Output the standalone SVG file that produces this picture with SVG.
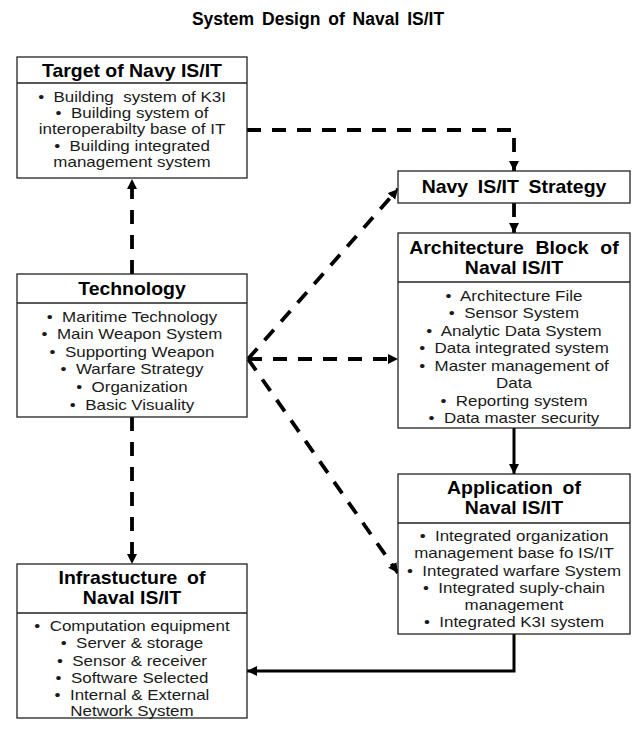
<svg xmlns="http://www.w3.org/2000/svg" width="637" height="729" viewBox="0 0 637 729">
<style>
.box{fill:#fff;stroke:#222;stroke-width:1.3}
.div{stroke:#222;stroke-width:1.3}
.title{font-family:"Liberation Sans",Arial,sans-serif;font-weight:bold;font-size:17.5px;fill:#000;text-anchor:middle;word-spacing:3px}
.hd{font-family:"Liberation Sans",Arial,sans-serif;font-weight:bold;font-size:18px;fill:#000;text-anchor:middle}
.it{font-family:"Liberation Sans",Arial,sans-serif;font-size:15px;fill:#1a1a1a;text-anchor:middle}
.dash{fill:none;stroke:#000;stroke-width:3.8;stroke-dasharray:14 11}
.solid{fill:none;stroke:#000;stroke-width:3}
</style>
<defs>
<marker id="ah" markerUnits="userSpaceOnUse" markerWidth="12" markerHeight="12" refX="10" refY="5" orient="auto">
<path d="M0,0 L10,5 L0,10 Z" fill="#000"/>
</marker>
</defs>
<rect width="637" height="729" fill="#fff"/>
<text class="title" x="318" y="25">System Design of Naval IS/IT</text>

<g id="connectors">
<path class="dash" d="M247,130 H514 V171" marker-end="url(#ah)"/>
<path class="dash" d="M514,203 V233" marker-end="url(#ah)"/>
<path class="dash" d="M132,274 V179" marker-end="url(#ah)"/>
<path class="dash" d="M248,359 L398,189" marker-end="url(#ah)"/>
<path class="dash" d="M248,359 L398,359" marker-end="url(#ah)"/>
<path class="dash" d="M248,359 L398,573" marker-end="url(#ah)"/>
<path class="dash" d="M132,417 V564" marker-end="url(#ah)"/>
<path class="solid" d="M514,428 V474" marker-end="url(#ah)"/>
<path class="solid" d="M514,634 V671 H247" marker-end="url(#ah)"/>
</g>

<g id="target">
<rect class="box" x="17" y="57" width="230" height="121"/>
<line class="div" x1="17" y1="83" x2="247" y2="83"/>
<g transform="matrix(1.08,0,0,1,-10.56,0)">
<text class="hd" x="132" y="77">Target of Navy IS/IT</text>
</g>
<g transform="matrix(1.13,0,0,1,-17.16,0)">
<text class="it" x="132" y="102" xml:space="preserve">•  Building  system of K3I</text>
<text class="it" x="132" y="118" xml:space="preserve">•  Building system of</text>
<text class="it" x="132" y="134">interoperabilty base of IT</text>
<text class="it" x="132" y="151" xml:space="preserve">•  Building integrated</text>
<text class="it" x="132" y="167">management system</text>
</g>
</g>

<g id="strategy">
<rect class="box" x="398" y="171" width="232" height="32"/>
<g transform="matrix(1.08,0,0,1,-41.12,0)">
<text class="hd" x="514" y="193" style="word-spacing:4px">Navy IS/IT Strategy</text>
</g>
</g>

<g id="architecture">
<rect class="box" x="398" y="233" width="232" height="195"/>
<line class="div" x1="398" y1="282" x2="630" y2="282"/>
<g transform="matrix(1.08,0,0,1,-41.12,0)">
<text class="hd" x="514" y="254" style="word-spacing:6px">Architecture Block of</text>
<text class="hd" x="514" y="274">Naval IS/IT</text>
</g>
<g transform="matrix(1.13,0,0,1,-66.82,0)">
<text class="it" x="514" y="301" xml:space="preserve">•  Architecture File</text>
<text class="it" x="514" y="318" xml:space="preserve">•  Sensor System</text>
<text class="it" x="514" y="336" xml:space="preserve">•  Analytic Data System</text>
<text class="it" x="514" y="353" xml:space="preserve">•  Data integrated system</text>
<text class="it" x="514" y="371" xml:space="preserve">•  Master management of</text>
<text class="it" x="514" y="388">Data</text>
<text class="it" x="514" y="406" xml:space="preserve">•  Reporting system</text>
<text class="it" x="514" y="423" xml:space="preserve">•  Data master security</text>
</g>
</g>

<g id="technology">
<rect class="box" x="17" y="274" width="230" height="143"/>
<line class="div" x1="17" y1="303" x2="247" y2="303"/>
<g transform="matrix(1.08,0,0,1,-10.56,0)">
<text class="hd" x="132" y="295">Technology</text>
</g>
<g transform="matrix(1.13,0,0,1,-17.16,0)">
<text class="it" x="132" y="322" xml:space="preserve">•  Maritime Technology</text>
<text class="it" x="132" y="339" xml:space="preserve">•  Main Weapon System</text>
<text class="it" x="132" y="357" xml:space="preserve">•  Supporting Weapon</text>
<text class="it" x="132" y="374" xml:space="preserve">•  Warfare Strategy</text>
<text class="it" x="132" y="392" xml:space="preserve">•  Organization</text>
<text class="it" x="132" y="410" xml:space="preserve">•  Basic Visuality</text>
</g>
</g>

<g id="application">
<rect class="box" x="398" y="474" width="232" height="160"/>
<line class="div" x1="398" y1="523" x2="630" y2="523"/>
<g transform="matrix(1.08,0,0,1,-41.12,0)">
<text class="hd" x="514" y="494" style="word-spacing:4px">Application of</text>
<text class="hd" x="514" y="514">Naval IS/IT</text>
</g>
<g transform="matrix(1.13,0,0,1,-66.82,0)">
<text class="it" x="514" y="541" xml:space="preserve">•  Integrated organization</text>
<text class="it" x="514" y="558">management base fo IS/IT</text>
<text class="it" x="514" y="576" xml:space="preserve">•  Integrated warfare System</text>
<text class="it" x="514" y="593" xml:space="preserve">•  Integrated suply-chain</text>
<text class="it" x="514" y="610">management</text>
<text class="it" x="514" y="627" xml:space="preserve">•  Integrated K3I system</text>
</g>
</g>

<g id="infrastructure">
<rect class="box" x="17" y="564" width="230" height="154"/>
<line class="div" x1="17" y1="613" x2="247" y2="613"/>
<g transform="matrix(1.08,0,0,1,-10.56,0)">
<text class="hd" x="132" y="584" style="word-spacing:4px">Infrastucture of</text>
<text class="hd" x="132" y="604">Naval IS/IT</text>
</g>
<g transform="matrix(1.13,0,0,1,-17.16,0)">
<text class="it" x="132" y="631" xml:space="preserve">•  Computation equipment</text>
<text class="it" x="132" y="648" xml:space="preserve">•  Server &amp; storage</text>
<text class="it" x="132" y="666" xml:space="preserve">•  Sensor &amp; receiver</text>
<text class="it" x="132" y="683" xml:space="preserve">•  Software Selected</text>
<text class="it" x="132" y="700" xml:space="preserve">•  Internal &amp; External</text>
<text class="it" x="132" y="716">Network System</text>
</g>
</g>
</svg>
